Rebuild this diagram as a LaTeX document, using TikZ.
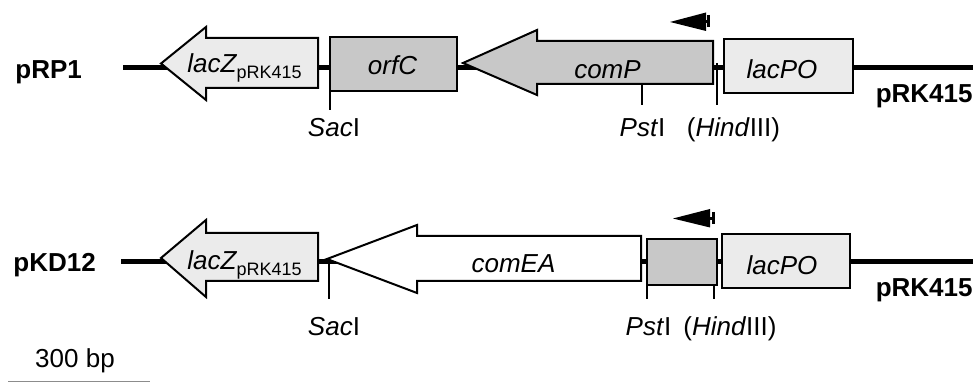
\documentclass[tikz,border=0pt]{standalone}
\usepackage{fontspec}
\setmainfont{Liberation Sans}
\usetikzlibrary{arrows.meta}
\definecolor{genelight}{RGB}{235,235,235}
\definecolor{genegrey}{RGB}{200,200,200}
\definecolor{scalegrey}{RGB}{140,140,140}
\tikzset{
    backbone/.style={line width=2.5pt, draw=black},
    geneshape/.style={draw=black, line width=1pt, line join=miter},
    sitetick/.style={line width=1pt},
    promoter/.style={fill=black},
    promoterstub/.style={line width=1.5pt},
    genelabel/.style={font=\fontsize{13}{15}\selectfont\itshape, inner sep=0pt, anchor=base},
    sitelabel/.style={font=\fontsize{13}{15}\selectfont, inner sep=0pt, anchor=base},
    plasmid/.style={font=\fontsize{13}{15}\selectfont\bfseries, inner sep=0pt}
}
\newcommand{\laczlabel}{lacZ\raisebox{-3pt}{\upshape\fontsize{9}{10}\selectfont pRK415}}

\begin{document}
\begin{tikzpicture}[x=0.5pt, y=-0.5pt]
    \useasboundingbox (0,0) rectangle (975,383);

    % ---- pRP1 ----
    \coordinate (bbAw) at (123,67.5);
    \coordinate (bbAe) at (973,67.5);
    \draw[backbone] (bbAw) -- (bbAe);
    \filldraw[geneshape, fill=genelight] (161,63.5) -- (206,27) -- (206,38) -- (318,38)
        -- (318,88) -- (206,88) -- (206,100) -- cycle;
    \filldraw[geneshape, fill=genegrey] (330,37) rectangle (457,91);
    \filldraw[geneshape, fill=genegrey] (463,63) -- (537,30) -- (537,41) -- (713,41)
        -- (713,84) -- (537,84) -- (537,95) -- cycle;
    \filldraw[geneshape, fill=genelight] (724,39) rectangle (853,93);
    \node[genelabel] (lacZA) at (244.5,73) {\laczlabel};
    \node[genelabel] (orfC) at (392.5,75) {orfC};
    \node[genelabel] (comP) at (607.5,79) {comP};
    \node[genelabel] (lacPOA) at (782,79) {lacPO};
    % transcription start
    \fill[promoter] (670,22) -- (706,12.5) -- (706,31) -- cycle;
    \draw[promoterstub] (704,22) -- (710,22) (708.5,15) -- (708.5,27);
    \draw[sitetick] (330,91) -- (330,110);
    \draw[sitetick] (642,84) -- (642,105);
    \draw[sitetick] (717,63) -- (717,105);
    \node[sitelabel] (sacA) at (334,137) {\textit{Sac}I};
    \node[sitelabel] (pstA) at (642.5,137) {\textit{Pst}I};
    \node[sitelabel] (hindA) at (733.5,137) {(\textit{Hind}III)};
    \node[plasmid, anchor=base west] (pRP1) at (15,79) {pRP1};
    \node[plasmid, anchor=base east] (vecA) at (973,103) {pRK415};

    % ---- pKD12 ----
    \coordinate (bbBw) at (121,262);
    \coordinate (bbBe) at (973,262);
    \draw[backbone] (bbBw) -- (bbBe);
    \filldraw[geneshape, fill=genelight] (161,258) -- (206,220) -- (206,233) -- (318,233)
        -- (318,281) -- (206,281) -- (206,297) -- cycle;
    \filldraw[geneshape, fill=white] (327,259) -- (417,225) -- (417,236) -- (641,236)
        -- (641,281) -- (417,281) -- (417,293) -- cycle;
    \filldraw[geneshape, fill=genegrey] (647,239) rectangle (717,285);
    \filldraw[geneshape, fill=genelight] (722,234) rectangle (850,288);
    \node[genelabel] (lacZB) at (244.5,270) {\laczlabel};
    \node[genelabel] (comEA) at (513.5,273) {comEA};
    \node[genelabel] (lacPOB) at (782,275) {lacPO};
    % transcription start
    \fill[promoter] (673,218.5) -- (710,209) -- (710,227.5) -- cycle;
    \draw[promoterstub] (708,218.5) -- (715,218.5) (713,212) -- (713,224);
    \draw[sitetick] (329,262) -- (329,299);
    \draw[sitetick] (647,285) -- (647,299);
    \draw[sitetick] (714,285) -- (714,299);
    \node[sitelabel] (sacB) at (334,336) {\textit{Sac}I};
    \node[sitelabel] (pstB) at (648.5,336) {\textit{Pst}I};
    \node[sitelabel] (hindB) at (730,336) {(\textit{Hind}III)};
    \node[plasmid, anchor=base west] (pKD12) at (13,272) {pKD12};
    \node[plasmid, anchor=base east] (vecB) at (973,297) {pRK415};

    % scale bar
    \node[sitelabel] (scale) at (75,368) {300 bp};
    \coordinate (barw) at (8,382);
    \coordinate (bare) at (150,382);
    \draw[scalegrey, line width=0.5pt] (barw) -- (bare);
\end{tikzpicture}
\end{document}
